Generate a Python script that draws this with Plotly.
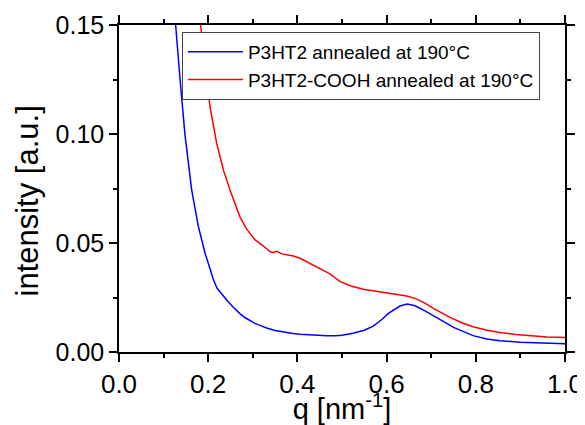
import plotly.graph_objects as go

# ---- data ----
q_blue = [0.120, 0.127, 0.137, 0.148, 0.163, 0.178, 0.193, 0.204, 0.212, 0.220, 0.230, 0.2415,
          0.253, 0.264, 0.271, 0.283, 0.294, 0.305, 0.316, 0.331, 0.350, 0.368, 0.390, 0.406,
          0.421, 0.445, 0.466, 0.485, 0.500, 0.525, 0.550, 0.570, 0.590, 0.604, 0.618, 0.630,
          0.646, 0.664, 0.685, 0.705, 0.730, 0.750, 0.775, 0.794, 0.825, 0.854, 0.900, 0.929,
          0.960, 1.000]
i_blue = [0.172, 0.150, 0.1248, 0.0995, 0.0743, 0.0575, 0.0453, 0.0376, 0.0330, 0.0292, 0.0266, 0.0239,
          0.0212, 0.0190, 0.0176, 0.0157, 0.0142, 0.0131, 0.0122, 0.0110, 0.0099, 0.0092, 0.0085, 0.0081,
          0.0079, 0.0076, 0.0074, 0.0074, 0.0077, 0.0086, 0.0100, 0.0119, 0.0150, 0.0177, 0.0196, 0.0211,
          0.0220, 0.0212, 0.0190, 0.0165, 0.0137, 0.0113, 0.0090, 0.0075, 0.0060, 0.0052, 0.0045, 0.0043,
          0.0040, 0.0038]

q_red = [0.178, 0.183, 0.197, 0.204, 0.219, 0.234, 0.249, 0.264, 0.271, 0.286, 0.305,
         0.324, 0.339, 0.346, 0.354, 0.365, 0.391, 0.406, 0.421, 0.451, 0.473, 0.496,
         0.520, 0.548, 0.593, 0.625, 0.645, 0.664, 0.685, 0.705, 0.742, 0.770, 0.794,
         0.825, 0.854, 0.890, 0.929, 0.960, 1.000]
i_red = [0.162, 0.150, 0.1248, 0.1125, 0.0957, 0.0835, 0.0743, 0.0659, 0.0620, 0.0565, 0.0514,
         0.0486, 0.0460, 0.0457, 0.0462, 0.0450, 0.0440, 0.0430, 0.0414, 0.0384, 0.0358, 0.0323,
         0.0303, 0.0288, 0.0272, 0.0263, 0.0257, 0.0246, 0.0225, 0.0200, 0.0159, 0.0133, 0.0116,
         0.0100, 0.0089, 0.0080, 0.0073, 0.0069, 0.0066]

name_blue = "P3HT2 annealed at 190°C"
name_red = "P3HT2-COOH annealed at 190°C"

x_ticks = [0.0, 0.2, 0.4, 0.6, 0.8, 1.0]
x_ticklabels = ["0.0", "0.2", "0.4", "0.6", "0.8", "1.0"]
y_ticks = [0.00, 0.05, 0.10, 0.15]
y_ticklabels = ["0.00", "0.05", "0.10", "0.15"]
x_title = "q [nm<sup>-1</sup>]"
y_title = "intensity [a.u.]"

FONT = "Arial, Liberation Sans, sans-serif"

fig = go.Figure()
fig.add_trace(go.Scatter(x=q_blue, y=i_blue, mode="lines", name=name_blue,
                         line=dict(color="#0000FF", width=1.5)))
fig.add_trace(go.Scatter(x=q_red, y=i_red, mode="lines", name=name_red,
                         line=dict(color="#FF0000", width=1.5)))

axis_common = dict(
    showline=True, linecolor="black", linewidth=1.5, mirror="ticks",
    ticks="outside", ticklen=8, tickwidth=1.5, tickcolor="black",
    showgrid=False, zeroline=False, ticklabeloverflow="allow",
)

fig.update_xaxes(
    range=[0, 1.0], tickvals=x_ticks, ticktext=x_ticklabels,
    tickfont=dict(family=FONT, size=26, color="black"),
    minor=dict(ticks="outside", ticklen=4, tickwidth=1.5, tickcolor="black", dtick=0.1),
    title=dict(text=x_title, font=dict(family=FONT, size=29, color="black"),
               standoff=2),
    **axis_common,
)
fig.update_yaxes(
    range=[0, 0.15], tickvals=y_ticks, ticktext=y_ticklabels,
    tickfont=dict(family=FONT, size=25, color="black"),
    minor=dict(ticks="outside", ticklen=4, tickwidth=1.5, tickcolor="black", dtick=0.025),
    **axis_common,
)

# y-axis title (placed slightly below the plot-area centre, as in the reference)
fig.add_annotation(
    text=y_title, textangle=-90, showarrow=False,
    xref="paper", yref="paper", x=-0.205, y=0.462,
    xanchor="center", yanchor="middle",
    font=dict(family=FONT, size=31, color="black"),
)

# the page adds an 8px body margin, so the figure is 8px smaller and margins shifted
fig.update_layout(
    width=577, height=417,
    margin=dict(l=111, r=20, t=17, b=73, autoexpand=False),
    paper_bgcolor="white", plot_bgcolor="white",
    showlegend=True,
    legend=dict(
        x=0.141, y=0.979, xanchor="left", yanchor="top",
        bgcolor="white", bordercolor="#444444", borderwidth=1,
        font=dict(family=FONT, size=19, color="black"),
        itemwidth=55, tracegroupgap=0,
    ),
)

fig.write_html("out.html")
